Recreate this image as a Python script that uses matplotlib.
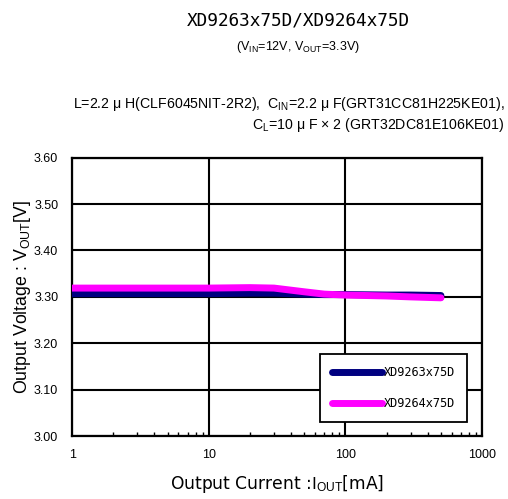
import numpy as np
import matplotlib.pyplot as plt
from matplotlib.ticker import LogLocator, NullFormatter

plt.rcParams['font.family'] = ['Liberation Sans', 'DejaVu Sans']
plt.rcParams['mathtext.fontset'] = 'custom'
plt.rcParams['mathtext.rm'] = 'Liberation Sans'
plt.rcParams['mathtext.it'] = 'Liberation Sans'

# data
iout = [1, 2, 5, 10, 20, 30, 50, 70, 100, 200, 300, 500]
v_9263 = [3.307, 3.307, 3.307, 3.307, 3.308, 3.308, 3.306, 3.305, 3.305, 3.304, 3.304, 3.303]
v_9264 = [3.319, 3.319, 3.319, 3.319, 3.320, 3.319, 3.311, 3.306, 3.304, 3.302, 3.300, 3.298]
names = ['XD9263x75D', 'XD9264x75D']
colors = ['#000080', '#ff00ff']
xticks = [1, 10, 100, 1000]
yticks = [3.00, 3.10, 3.20, 3.30, 3.40, 3.50, 3.60]

mono = ['DejaVu Sans Mono']

fig = plt.figure(figsize=(5.08, 4.99), dpi=100)
ax = fig.add_axes([0.142, 0.126, 0.807, 0.558])

ax.plot(iout, v_9263, color=colors[0], lw=5, solid_capstyle='round', label=names[0], zorder=3)
ax.plot(iout, v_9264, color=colors[1], lw=5, solid_capstyle='round', label=names[1], zorder=4)

ax.set_xscale('log')
ax.set_xlim(1, 1000)
ax.set_ylim(3.0, 3.6)
ax.set_xticks(xticks)
ax.set_xticklabels([str(v) for v in xticks], fontsize=9)
ax.xaxis.set_minor_locator(LogLocator(base=10, subs=np.arange(2, 10)))
ax.xaxis.set_minor_formatter(NullFormatter())
ax.set_yticks(yticks)
ax.set_yticklabels(['%.2f' % v for v in yticks], fontsize=9)
ax.tick_params(axis='x', which='major', length=0, pad=9)
ax.tick_params(axis='x', which='minor', direction='in', length=3, width=1)
ax.tick_params(axis='y', length=0, pad=10)
ax.grid(True, which='major', color='black', lw=1.5)
for s in ax.spines.values():
    s.set_linewidth(1.6)

ax.set_xlabel(r'Output Current :$\mathrm{I_{OUT}}$[mA]', fontsize=12.3, labelpad=9,
              family=['DejaVu Sans'])
ax.set_ylabel(r'Output Voltage : $\mathrm{V_{OUT}}$[V]', fontsize=12.8, labelpad=1)

leg = ax.legend(loc='lower right', bbox_to_anchor=(0.963, 0.05), borderaxespad=0,
                prop={'family': mono, 'size': 8.6},
                frameon=True, fancybox=False, edgecolor='black', framealpha=1,
                handlelength=4.2, handletextpad=0.15, borderpad=1.0, labelspacing=1.5)
leg.get_frame().set_linewidth(1.3)

fig.text(0.587, 0.958, 'XD9263x75D/XD9264x75D', ha='center', va='center', fontsize=12.8,
         family=mono)
fig.text(0.587, 0.906, r'($\mathrm{V_{IN}}$=12V, $\mathrm{V_{OUT}}$=3.3V)', ha='center',
         va='center', fontsize=9)
fig.text(0.994, 0.792,
         r'L=2.2 $\mu$ H(CLF6045NIT-2R2),  $\mathrm{C_{IN}}$=2.2 $\mu$ F(GRT31CC81H225KE01),',
         ha='right', va='center', fontsize=10.2)
fig.text(0.994, 0.75, r'$\mathrm{C_L}$=10 $\mu$ F × 2 (GRT32DC81E106KE01)', ha='right',
         va='center', fontsize=10.2)

fig.savefig('out.png', dpi=100)
